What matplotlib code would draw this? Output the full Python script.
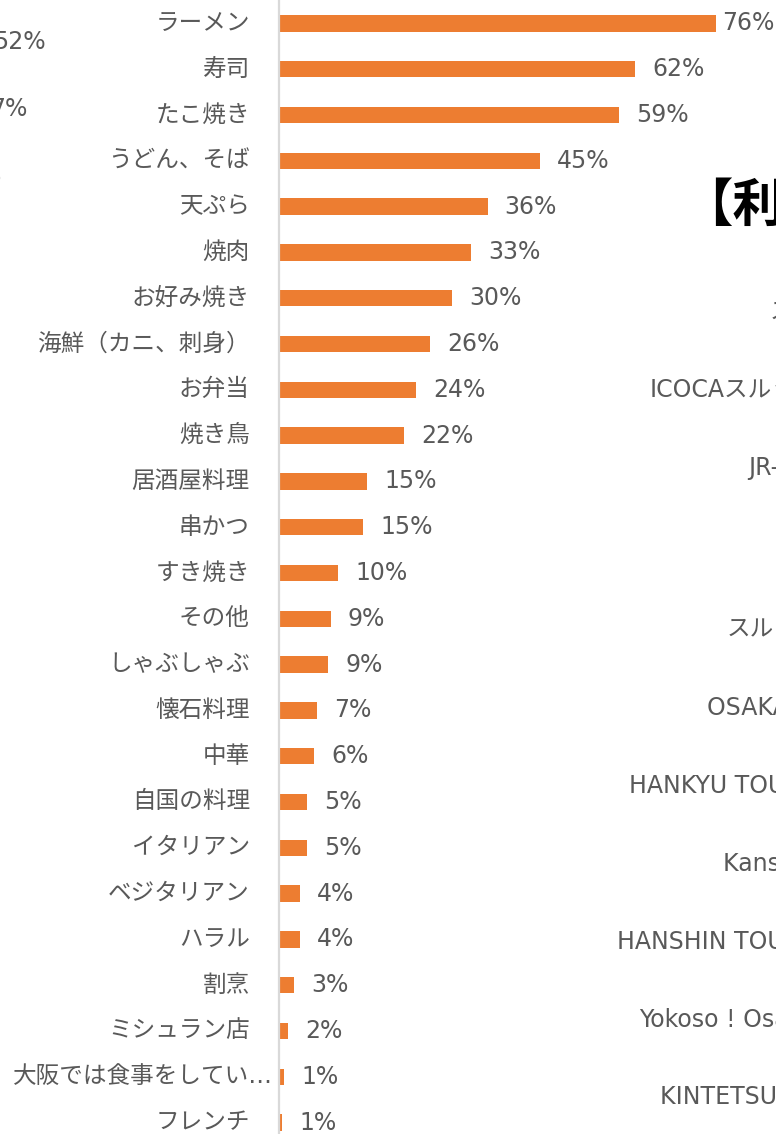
import matplotlib
matplotlib.use("Agg")
import matplotlib.pyplot as plt
from matplotlib.transforms import ScaledTranslation

plt.rcParams['font.family'] = ['DejaVu Sans', 'Noto Sans CJK JP']

# 大阪で食べた料理 (percent of respondents)
categories = [
    "ラーメン", "寿司", "たこ焼き", "うどん、そば", "天ぷら", "焼肉", "お好み焼き",
    "海鮮（カニ、刺身）", "お弁当", "焼き鳥", "居酒屋料理", "串かつ", "すき焼き",
    "その他", "しゃぶしゃぶ", "懐石料理", "中華", "自国の料理", "イタリアン",
    "ベジタリアン", "ハラル", "割烹", "ミシュラン店", "大阪では食事をしてい…", "フレンチ",
]
values = [
    76.0, 61.9, 59.1, 45.4, 36.3, 33.4, 30.1,
    26.3, 23.8, 21.7, 15.3, 14.6, 10.3,
    9.0, 8.6, 6.6, 6.1, 4.9, 4.9,
    3.7, 3.6, 2.6, 1.6, 0.9, 0.6,
]

# fragments of the neighbouring charts on the slide (cut off by the crop)
left_fragments = ["52%", "7%", "9%"]
right_title = "【利用した交通パス】"
right_labels = [
    "スルッと", "ICOCAスルッとKANSAI", "JR-WEST RAIL PASS", "スルッとKANSAI",
    "OSAKA AMAZING PASS", "HANKYU TOURIST PASS", "Kansai Thru Pass",
    "HANSHIN TOURIST PASS", "Yokoso ! Osaka Ticket", "KINTETSU RAIL PASS",
]

W, H = 776, 1134
BAR = '#ED7D31'
TXT = '#595959'

fig = plt.figure(figsize=(W / 100, H / 100), dpi=100)
fig.patch.set_facecolor('white')

ax = fig.add_axes([279 / W, 0, (W - 279) / W, 1])
ypos = list(range(len(categories)))
ax.barh(ypos, values, height=0.36, color=BAR)
ax.set_xlim(0, (W - 279) / 5.75)
ax.set_ylim(24.25, -0.51)

for s in ['top', 'right', 'bottom']:
    ax.spines[s].set_visible(False)
ax.spines['left'].set_color('#D9D9D9')
ax.spines['left'].set_linewidth(1.6)
ax.set_xticks([])
ax.set_yticks(ypos, labels=categories, fontsize=17, color=TXT)
ax.tick_params(axis='y', length=0, pad=21)

# labels sit a little above the bar centre; truncated label overflows right like in Excel
up = ScaledTranslation(0, 3 / 100, fig.dpi_scale_trans)
right = ScaledTranslation(23 / 100, 0, fig.dpi_scale_trans)
for lbl in ax.get_yticklabels():
    tr = lbl.get_transform() + up
    if lbl.get_text().endswith('…'):
        tr = tr + right
    lbl.set_transform(tr)

value_texts = []
for y, v in zip(ypos, values):
    t = ax.annotate(f"{v:.0f}%", xy=(v, y), xytext=(17, 0), textcoords='offset pixels',
                    va='center', ha='left', fontsize=17, color=TXT)
    value_texts.append(t)

# keep labels inside the figure (Excel pulls them back in)
fig.canvas.draw()
r = fig.canvas.get_renderer()
for t in value_texts:
    bb = t.get_window_extent(r)
    if bb.x1 > W - 1:
        t.set_position((17 - (bb.x1 - (W - 1)), 0))

# cut-off neighbours
left_x = [46, 27, 2]
left_y = [42, 109, 176]
for txt, x, y in zip(left_fragments, left_x, left_y):
    fig.text(x / W, 1 - y / H, txt, ha='right', va='center', fontsize=17, color=TXT)

fig.text(681 / W, 1 - 207 / H, right_title, ha='left', va='center',
         fontsize=37, fontweight='bold', color='black')

right_x = [770, 650, 748, 727, 707, 629, 723, 617, 639, 660]
right_y = [311, 389, 468, 628, 708, 786, 864, 942, 1020, 1097]
for txt, x, y in zip(right_labels, right_x, right_y):
    fig.text(x / W, 1 - y / H, txt, ha='left', va='center', fontsize=17, color=TXT)

fig.savefig('out.png', dpi=100)
plt.close(fig)
